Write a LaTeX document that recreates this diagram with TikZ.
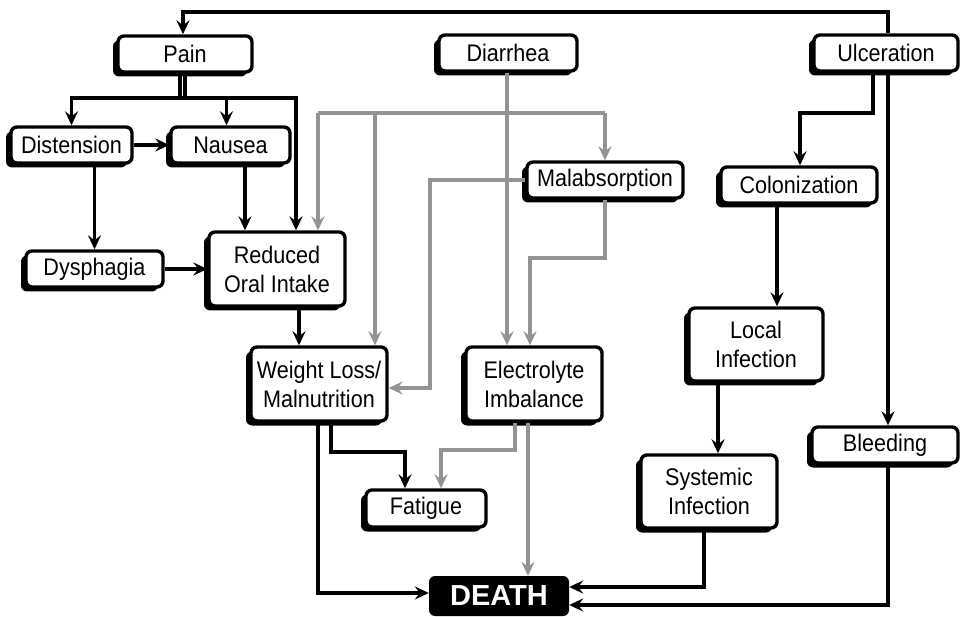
\documentclass[tikz,border=0pt]{standalone}
\usepackage{fontspec}
\setmainfont{Liberation Sans}[FakeStretch=0.9]
\newfontfamily\deathfont{Liberation Sans}
\usetikzlibrary{arrows.meta,shadows,calc}
\begin{document}
\begin{tikzpicture}[x=1pt,y=-1pt,
  box/.style={draw=black, line width=3.4pt, fill=white, rounded corners=6pt,
    inner sep=0pt, align=center, font=\fontsize{24}{29}\selectfont,
    general shadow={fill=black, shadow xshift=-5pt, shadow yshift=-4.5pt}},
  deathbox/.style={fill=black, rounded corners=6pt, inner sep=0pt,
    text=white, font=\deathfont\bfseries\fontsize{29}{32}\selectfont},
  arr/.style={draw=black, line width=3.2pt, -{Stealth[length=14pt,width=13pt,inset=5pt]}},
  garr/.style={draw=gray!85, line width=3.2pt, -{Stealth[length=14pt,width=13pt,inset=5pt]}},
  gline/.style={draw=gray!85, line width=3.2pt}
]
\useasboundingbox (0,0) rectangle (961,617);

% nodes
\node[box, minimum width=134pt, minimum height=36pt] (pain) at (185,54) {Pain};
\node[box, minimum width=121pt, minimum height=36pt] (dist) at (71.5,145) {Distension};
\node[box, minimum width=119pt, minimum height=36pt] (naus) at (230.5,145) {Nausea};
\node[box, minimum width=138pt, minimum height=36pt] (diar) at (508,53) {Diarrhea};
\node[box, minimum width=144pt, minimum height=36pt] (ulc) at (886,53) {Ulceration};
\node[box, minimum width=156pt, minimum height=36pt] (mal) at (605,180) {Malabsorption};
\node[box, minimum width=156pt, minimum height=36pt] (col) at (799,185) {Colonization};
\node[box, minimum width=137pt, minimum height=36pt] (dys) at (94.5,269) {Dysphagia};
\node[box, minimum width=136pt, minimum height=74pt] (red) at (277,269) {Reduced\\Oral Intake};
\node[box, minimum width=136pt, minimum height=74pt] (wl) at (319,384) {Weight Loss/\\Malnutrition};
\node[box, minimum width=136pt, minimum height=74pt] (elec) at (534,384) {Electrolyte\\Imbalance};
\node[box, minimum width=134pt, minimum height=73pt] (loc) at (756,344.5) {Local\\Infection};
\node[box, minimum width=146pt, minimum height=36pt] (bleed) at (885,445) {Bleeding};
\node[box, minimum width=136pt, minimum height=73pt] (sys) at (709,491.5) {Systemic\\Infection};
\node[box, minimum width=120pt, minimum height=37pt] (fat) at (426,508.5) {Fatigue};
\node[deathbox, minimum width=140pt, minimum height=40pt] (death) at (499,596) {DEATH};

% helper coordinates
\coordinate (ptop) at (183,12);
\coordinate (utop) at (888,12);
\coordinate (pl) at (180,98);
\coordinate (pr) at (185,98);
\coordinate (prr) at (296,98);
\coordinate (xn) at (245,0);
\coordinate (xr) at (299,0);
\coordinate (g1) at (318,113);
\coordinate (g2) at (375,113);
\coordinate (g3) at (605,113);
\coordinate (xd) at (507,0);
\coordinate (m1) at (430,180);
\coordinate (m2) at (430,388);
\coordinate (m3) at (605,258);
\coordinate (m4) at (530,258);
\coordinate (e1) at (515,450);
\coordinate (e2) at (441,450);
\coordinate (xe) at (528,0);
\coordinate (w1) at (318,593);
\coordinate (w2) at (331,452);
\coordinate (w3) at (405,452);
\coordinate (u1) at (873,113);
\coordinate (u2) at (800,113);
\coordinate (xc) at (777,0);
\coordinate (xl) at (718,0);
\coordinate (s1) at (704,587);
\coordinate (b1) at (888,605);

% black connectors
\draw[arr] (ulc.north -| utop) -- (utop) -- (ptop) -- (pain.north -| ptop);
\draw[arr] (pain.south -| pl) -- (pl) -| (dist.north);
\draw[arr] (pl) -| ([xshift=-4pt]naus.north);
\draw[arr] (pain.south -| pr) -- (pr) -- (prr) -- (red.north -| prr);
\draw[arr] (dist.east) -- (naus.west);
\draw[arr] (dist.south -| dys.north) -- (dys.north);
\draw[arr] (naus.south -| xn) -- (red.north -| xn);
\draw[arr] (dys.east) -- (red.west);
\draw[arr] (red.south -| xr) -- (wl.north -| xr);
\draw[arr] (wl.south -| w1) -- (w1) -- (death.west |- w1);
\draw[arr] (wl.south -| w2) -- (w2) -- (w3) -- (fat.north -| w3);
\draw[arr] (ulc.south -| u1) -- (u1) -- (u2) -- (col.north -| u2);
\draw[arr] (ulc.south -| utop) -- (bleed.north -| utop);
\draw[arr] (col.south -| xc) -- (loc.north -| xc);
\draw[arr] (loc.south -| xl) -- (sys.north -| xl);
\draw[arr] (sys.south -| s1) -- (s1) -- (death.east |- s1);
\draw[arr] (bleed.south -| b1) -- (b1) -- (death.east |- b1);

% gray connectors
\draw[garr] (diar.south -| xd) -- (elec.north -| xd);
\draw[gline] (g1) -- (g3);
\draw[garr] (g1) -- (red.north -| g1);
\draw[garr] (g2) -- (wl.north -| g2);
\draw[garr] (g3) -- (mal.north -| g3);
\draw[garr] (mal.west) -- (m1) -- (m2) -- (wl.east |- m2);
\draw[garr] (mal.south -| m3) -- (m3) -- (m4) -- (elec.north -| m4);
\draw[garr] (elec.south -| e1) -- (e1) -- (e2) -- (fat.north -| e2);
\draw[garr] (elec.south -| xe) -- (death.north -| xe);
\end{tikzpicture}
\end{document}
